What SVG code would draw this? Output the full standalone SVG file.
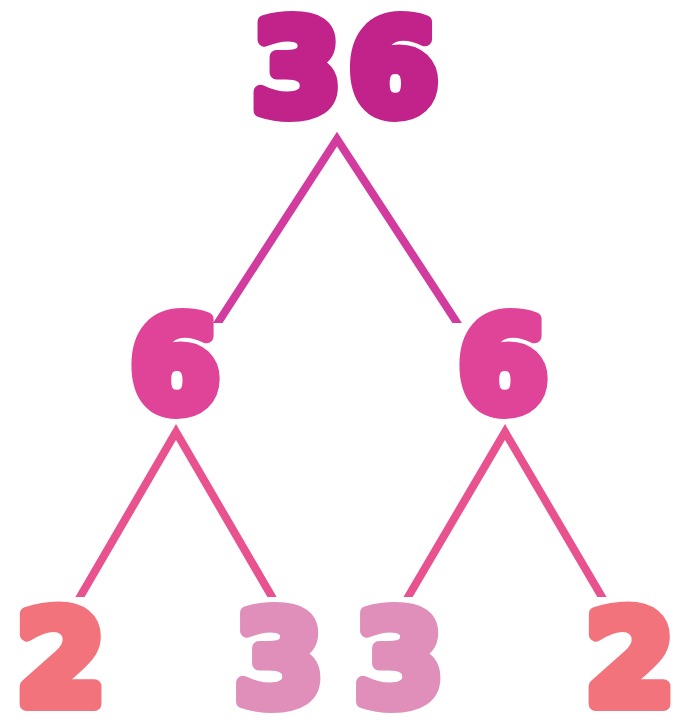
<svg xmlns="http://www.w3.org/2000/svg" width="678" height="722" viewBox="0 0 678 722">
<defs>
<style>
.num{font-family:"DejaVu Sans","Liberation Sans",sans-serif;font-weight:bold;font-size:128px;text-anchor:middle;stroke-linejoin:round;stroke-width:14px;paint-order:stroke}
.n36{fill:#c1238a;stroke:#c1238a;letter-spacing:8px}
.n6{fill:#e04498;stroke:#e04498}
.n2{fill:#f2737b;stroke:#f2737b}
.n3{fill:#e08fbb;stroke:#e08fbb}
.edge{fill:none;stroke-width:8;stroke-linejoin:miter;stroke-linecap:butt}
.e1{stroke:#d23c9f}
.e2{stroke:#e8528f}
</style>
<clipPath id="c1"><rect x="0" y="0" width="678" height="323"/></clipPath>
<clipPath id="c2"><rect x="0" y="0" width="678" height="597"/></clipPath>
</defs>
<g id="connectors">
<polyline class="edge e1" clip-path="url(#c1)" points="210,335 337,139 465,335"/>
<polyline class="edge e2" clip-path="url(#c2)" points="73,609 176,432 279,609"/>
<polyline class="edge e2" clip-path="url(#c2)" points="401,609 505,432 609,609"/>
</g>
<g id="n36"><text class="num n36" x="349" y="113">36</text></g>
<g id="n6a"><text class="num n6" x="175" y="410">6</text></g>
<g id="n6b"><text class="num n6" x="503" y="410">6</text></g>
<g id="n2a"><text class="num n2" x="61" y="704">2</text></g>
<g id="n3a"><text class="num n3" x="279" y="704">3</text></g>
<g id="n3b"><text class="num n3" x="399" y="704">3</text></g>
<g id="n2b"><text class="num n2" x="630" y="704">2</text></g>
</svg>
